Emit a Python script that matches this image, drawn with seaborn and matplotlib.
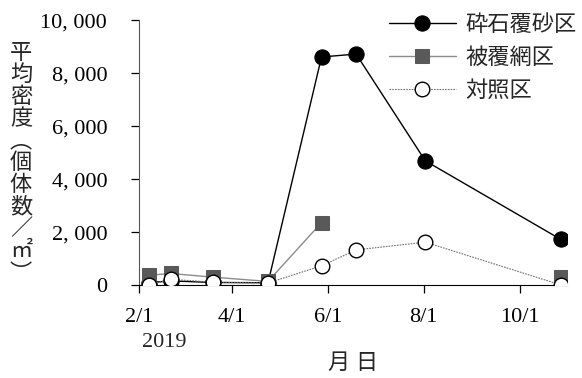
import pandas as pd
import numpy as np
import matplotlib
matplotlib.use("Agg")
import matplotlib.pyplot as plt
import matplotlib.dates as mdates
from matplotlib.ticker import FuncFormatter
import seaborn as sns

dates = pd.to_datetime(["2019-02-07", "2019-02-21", "2019-03-20", "2019-04-24",
                        "2019-05-28", "2019-06-19", "2019-08-02", "2019-10-27"])
gravel = [100, 170, 110, 100, 8620, 8730, 4700, 1740]
net = [380, 450, 310, 150, 2370, np.nan, np.nan, 300]
control = [20, 230, 120, 90, 740, 1340, 1630, 20]
names = ["砕石覆砂区", "被覆網区", "対照区"]

sns.set_style("ticks")
plt.rcParams["font.family"] = ["Liberation Serif", "Noto Sans CJK JP"]

fig, ax = plt.subplots(figsize=(5.82, 3.78), dpi=100)
fig.subplots_adjust(left=0.239, right=0.974, top=0.946, bottom=0.245)

df = pd.DataFrame({"date": dates, "gravel": gravel, "net": net, "control": control})

sns.lineplot(data=df, x="date", y="gravel", ax=ax, color="black", lw=1.0,
             marker="o", markersize=11, markerfacecolor="black",
             markeredgecolor="black", label=names[0], zorder=3)
seg = df.iloc[:5]
sns.lineplot(data=seg, x="date", y="net", ax=ax, color="#8c8c8c", lw=1.0,
             marker="s", markersize=10.5, markerfacecolor="#595959",
             markeredgecolor="#595959", label=names[1], zorder=4)
last = df.iloc[7:]
sns.lineplot(data=last, x="date", y="net", ax=ax, color="#8c8c8c", lw=1.0,
             marker="s", markersize=10.5, markerfacecolor="#595959",
             markeredgecolor="#595959", legend=False, zorder=4)
sns.lineplot(data=df, x="date", y="control", ax=ax, color="#707070", lw=0.8,
             linestyle=(0, (1.5, 1)), marker="o", markersize=10.5,
             markerfacecolor="white", markeredgecolor="black",
             markeredgewidth=1.0, label=names[2], zorder=5)

ax.set_xlim(pd.Timestamp("2019-02-01"), pd.Timestamp("2019-10-31"))
ax.set_ylim(0, 10000)
ax.set_yticks(range(0, 10001, 2000))
ax.yaxis.set_major_formatter(FuncFormatter(lambda v, p: f"{int(v):,}".replace(",", ", ")))
ax.xaxis.set_major_locator(mdates.MonthLocator(bymonth=[2, 4, 6, 8, 10]))
ax.xaxis.set_major_formatter(FuncFormatter(
    lambda v, p: f"{mdates.num2date(v).month}/{mdates.num2date(v).day}"))

ax.tick_params(axis="both", direction="out", length=6, width=0.9,
               labelsize=16, colors="black")
ax.tick_params(axis="y", pad=17)
ax.tick_params(axis="x", pad=10)
for s in ["top", "right"]:
    ax.spines[s].set_visible(False)
ax.spines["left"].set_color("#555555")
ax.spines["bottom"].set_color("black")

ax.set_xlabel("月 日", fontsize=16, labelpad=20)
ax.set_ylabel("")
fig.text(0.036, 0.57, "平\n均\n密\n度\n︵\n個\n体\n数\n／\n㎡\n︶",
         ha="center", va="center", fontsize=16, linespacing=0.95,
         family=["Noto Sans CJK JP", "DejaVu Sans"])
ax.text(0.058, -0.215, "2019", transform=ax.transAxes, fontsize=16, ha="center", va="center")

leg = ax.legend(loc="upper right", bbox_to_anchor=(1.07, 1.104), frameon=False,
                fontsize=16, handlelength=3.0, labelspacing=0.45, handletextpad=0.45)
for t in leg.get_texts():
    t.set_family(["Noto Sans CJK JP", "DejaVu Sans"])

fig.savefig("out.png", dpi=100)
